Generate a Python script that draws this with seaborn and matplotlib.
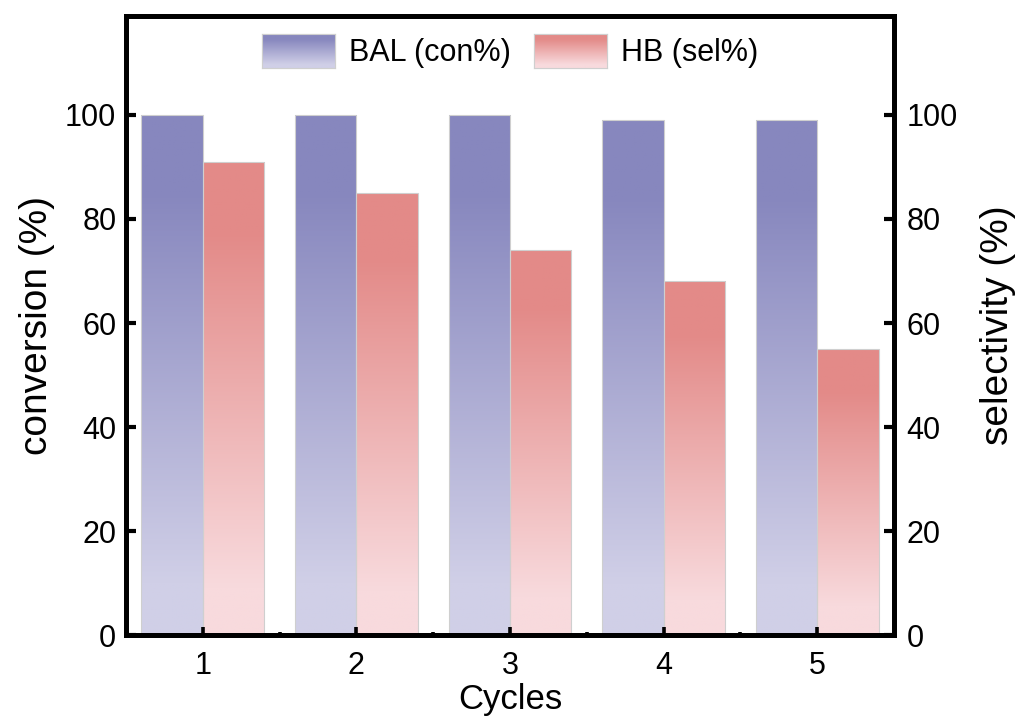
import numpy as np
import pandas as pd
import seaborn as sns
import matplotlib.pyplot as plt
from matplotlib.colors import LinearSegmentedColormap
from matplotlib.patches import Patch

cycles = ["1", "2", "3", "4", "5"]
bal_con = [100, 100, 100, 99, 99]
hb_sel = [91, 85, 74, 68, 55]
series_names = ["BAL (con%)", "HB (sel%)"]

dark = {"BAL (con%)": "#8787BE", "HB (sel%)": "#E38A88"}
light = {"BAL (con%)": "#D0CFE7", "HB (sel%)": "#F8DADD"}


def grad_cmap(name):
    # bottom -> top, dark part holds near the top
    return LinearSegmentedColormap.from_list(
        name, [(0.0, light[name]), (0.1, light[name]), (0.85, dark[name]), (1.0, dark[name])])


df = pd.DataFrame({
    "cycle": cycles * 2,
    "value": bal_con + hb_sel,
    "series": [series_names[0]] * len(cycles) + [series_names[1]] * len(cycles),
})

sns.set_theme(style="ticks")
plt.rcParams['font.family'] = ['Liberation Sans', 'DejaVu Sans']
plt.rcParams.update({"text.color": "black", "axes.labelcolor": "black",
                     "xtick.color": "black", "ytick.color": "black"})

fig = plt.figure(figsize=(10.16, 7.26), dpi=100)
ax = fig.add_axes([0.124, 0.125, 0.756, 0.853])

sns.barplot(data=df, x="cycle", y="value", hue="series", palette=[dark[n] for n in series_names],
            width=0.8, edgecolor="#cfcfcf", linewidth=0.8, legend=False, ax=ax)

ymax = 119
grad = np.linspace(0, 1, 256).reshape(-1, 1)
for i, cont in enumerate(ax.containers):
    cmap = grad_cmap(series_names[i])
    for bar in cont:
        x0, y0 = bar.get_x(), bar.get_y()
        w, h = bar.get_width(), bar.get_height()
        bar.set_facecolor("none")
        im = ax.imshow(grad, cmap=cmap, origin="lower", aspect="auto",
                       extent=[x0, x0 + w, y0, y0 + h], zorder=bar.get_zorder() - 0.1)
        im.set_clip_path(bar)

ax.set_axisbelow(False)
ax.set_xlim(-0.5, 4.5)
ax.set_ylim(0, ymax)
ax.set_yticks([0, 20, 40, 60, 80, 100])
ax.set_xticks(range(len(cycles)))
ax.set_xticklabels(cycles)
ax.set_xticks([0.5, 1.5, 2.5, 3.5], minor=True)

ax.set_xlabel("Cycles", fontsize=25, labelpad=2)
ax.set_ylabel("conversion (%)", fontsize=28, labelpad=7)

for s in ax.spines.values():
    s.set_linewidth(3.5)
    s.set_color("black")

ax.tick_params(axis="x", which="major", direction="in", length=6, width=2.6, labelsize=22, pad=11)
ax.tick_params(axis="x", which="minor", direction="in", length=2.5, width=2.6)
ax.tick_params(axis="y", which="major", direction="in", length=7, width=3, labelsize=22, pad=7)

ax2 = ax.twinx()
ax2.set_ylim(0, ymax)
ax2.set_yticks([0, 20, 40, 60, 80, 100])
ax2.tick_params(axis="y", which="major", direction="in", length=7, width=3, labelsize=22, pad=9)
ax2.set_ylabel("selectivity (%)", fontsize=28, labelpad=16)
for s in ax2.spines.values():
    s.set_linewidth(3.5)
    s.set_color("black")

handles = [Patch(facecolor=dark[n], edgecolor="#cfcfcf", linewidth=0.8, label=n) for n in series_names]
leg = ax.legend(handles=handles, loc="upper center", ncol=2, frameon=False, fontsize=22,
                handlelength=2.4, handleheight=1.3, handletextpad=0.45, columnspacing=0.75,
                bbox_to_anchor=(0.5, 1.0), borderaxespad=0.2)

# put gradient on the legend boxes
fig.canvas.draw()
renderer = fig.canvas.get_renderer()
for h, n in zip(leg.legend_handles, series_names):
    bb = h.get_window_extent(renderer).transformed(fig.transFigure.inverted())
    lax = fig.add_axes([bb.x0, bb.y0, bb.width, bb.height])
    lax.imshow(grad, cmap=grad_cmap(n), origin="lower", aspect="auto")
    lax.set_xticks([])
    lax.set_yticks([])
    for s in lax.spines.values():
        s.set_color("#cfcfcf")
        s.set_linewidth(0.8)

fig.savefig("out.png", dpi=100)
